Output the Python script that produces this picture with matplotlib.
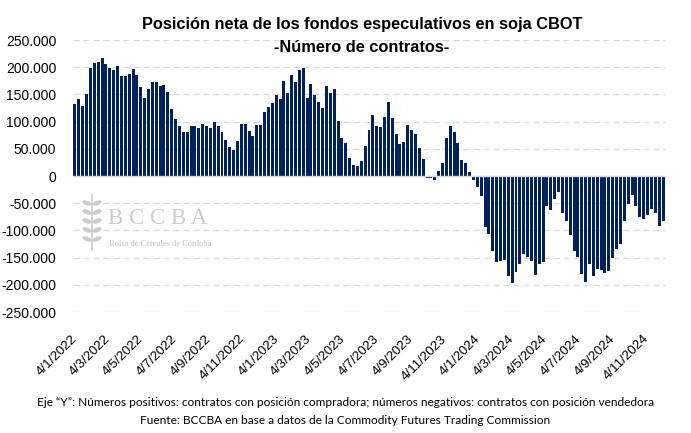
import matplotlib
matplotlib.use("Agg")
import matplotlib.pyplot as plt
from matplotlib.patches import Ellipse
from matplotlib.transforms import ScaledTranslation
import pandas as pd
import numpy as np

# ---- data (thousands of contracts, weekly from 4/1/2022) ----
start_date = "2022-01-04"
net_position_k = [
    132, 141, 129, 151, 198, 207, 210, 216, 205, 198,
    194, 203, 183, 183, 188, 196, 186, 164, 144, 160,
    172, 172, 166, 167, 155, 123, 104, 92, 81, 81,
    92, 92, 88, 95, 92, 88, 99, 92, 81, 66,
    54, 48, 64, 96, 96, 83, 73, 94, 94, 118,
    127, 135, 149, 141, 175, 153, 185, 173, 194, 198,
    144, 170, 148, 136, 125, 166, 153, 160, 101, 70,
    61, 33, 20, 19, 27, 55, 85, 112, 92, 90,
    109, 136, 107, 77, 59, 62, 94, 85, 77, 51,
    31, -3, -4, -8, 9, 23, 70, 92, 81, 60,
    29, 23, 7, -7, -20, -37, -94, -107, -138, -158,
    -156, -154, -184, -196, -176, -162, -144, -149, -156, -182,
    -162, -158, -56, -63, -43, -29, -68, -83, -109, -138,
    -148, -180, -195, -162, -184, -171, -173, -178, -174, -151,
    -134, -125, -83, -52, -35, -55, -76, -79, -72, -61,
    -68, -92, -83,
]
tick_dates = ["2022-01-04", "2022-03-04", "2022-05-04", "2022-07-04", "2022-09-04",
              "2022-11-04", "2023-01-04", "2023-03-04", "2023-05-04", "2023-07-04",
              "2023-09-04", "2023-11-04", "2024-01-04", "2024-03-04", "2024-05-04",
              "2024-07-04", "2024-09-04", "2024-11-04"]
tick_labels = ["4/1/2022", "4/3/2022", "4/5/2022", "4/7/2022", "4/9/2022",
               "4/11/2022", "4/1/2023", "4/3/2023", "4/5/2023", "4/7/2023",
               "4/9/2023", "4/11/2023", "4/1/2024", "4/3/2024", "4/5/2024",
               "4/7/2024", "4/9/2024", "4/11/2024"]
y_ticks = [-250000, -200000, -150000, -100000, -50000, 0,
           50000, 100000, 150000, 200000, 250000]

title1 = "Posición neta de los fondos especulativos en soja CBOT"
title2 = "-Número de contratos-"
note1 = "Eje “Y”: Números positivos: contratos con posición compradora; números negativos: contratos con posición vendedora"
note2 = "Fuente: BCCBA en base a datos de la Commodity Futures Trading Commission"

# ---- figure ----
plt.rcParams['font.family'] = ['Liberation Sans', 'DejaVu Sans']
fig = plt.figure(figsize=(6.91, 4.33), dpi=100)
ax = fig.add_axes([73/691, 1-312/433, (665-73)/691, (312-40)/433])

dates = pd.date_range(start_date, periods=len(net_position_k), freq="7D")
vals = np.array(net_position_k) * 1000
ax.bar(dates, vals, width=5.4, color="#002060", zorder=3)

ax.set_xlim(dates[0] - pd.Timedelta(days=3.6), dates[-1] + pd.Timedelta(days=3.6))
ax.set_ylim(-250000, 250000)
ax.set_yticks(y_ticks)
ax.set_yticklabels([f"{v:,.0f}".replace(",", ".") for v in y_ticks], fontsize=10)
ax.set_xticks(pd.to_datetime(tick_dates))
ax.set_xticklabels(tick_labels, rotation=45, ha="right", va="top",
                   rotation_mode="anchor", fontsize=9.6)
ax.tick_params(length=0)
ax.tick_params(axis="y", pad=12)
ax.tick_params(axis="x", pad=15)
offset = ScaledTranslation(-4/100, 0, fig.dpi_scale_trans)
for lbl in ax.get_xticklabels():
    lbl.set_transform(lbl.get_transform() + offset)

for s in ax.spines.values():
    s.set_visible(False)
ax.grid(axis="y", color="#d9d9d9", linestyle=(0, (5, 3)), linewidth=0.9, zorder=0)
ax.axhline(0, color="#d9d9d9", linewidth=1.0, zorder=4)

fig.text(362/691, 1-25/433, title1, ha="center", va="center",
         fontsize=11.8, fontweight="bold")
fig.text(362/691, 1-47/433, title2, ha="center", va="center",
         fontsize=11.8, fontweight="bold")

# watermark
wm = "#cccccc"
fig.text(108/691, 1-219/433, "B C C B A", fontsize=16.5, color=wm,
         family="Liberation Serif", ha="left", va="center")
fig.text(109/691, 1-244/433, "Bolsa de Cereales de Córdoba", fontsize=6, color="#bdbdbd",
         family="Liberation Serif", ha="left", va="center")
fig.add_artist(plt.Line2D([92/691, 92/691], [1-250/433, 1-195/433],
                          transform=fig.transFigure, color=wm, linewidth=1.2))
for i in range(5):
    yy = 1 - (203 + i * 9) / 433
    for side in (-1, 1):
        e = Ellipse((92/691 + side*5/691, yy), width=11/691, height=4/433,
                    angle=side*40, transform=fig.transFigure, color=wm, lw=0)
        fig.add_artist(e)

fig.text(0.5, 1-402/433, note1, ha="center", va="center", fontsize=8.6,
         family=["Lato", "DejaVu Sans"])
fig.text(0.5, 1-420/433, note2, ha="center", va="center", fontsize=8.6,
         family=["Lato", "DejaVu Sans"])

fig.savefig("out.png", dpi=100)
